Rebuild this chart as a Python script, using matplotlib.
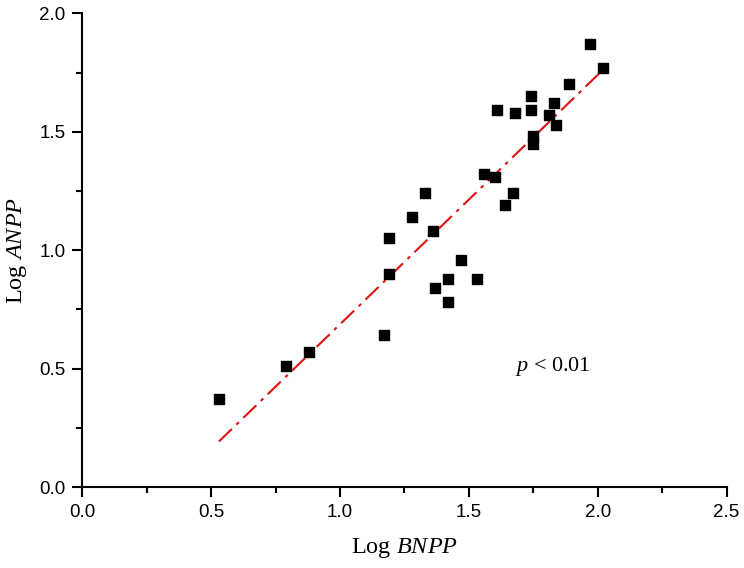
import numpy as np
from matplotlib import pyplot as plt
from matplotlib.ticker import MultipleLocator

# Log BNPP / Log ANPP
bnpp = [0.53, 0.79, 0.88, 1.17, 1.19, 1.19, 1.28, 1.33, 1.36, 1.37,
        1.42, 1.42, 1.47, 1.53, 1.56, 1.60, 1.64, 1.67, 1.61, 1.68,
        1.74, 1.74, 1.75, 1.75, 1.81, 1.83, 1.84, 1.89, 1.97, 2.02]
anpp = [0.37, 0.51, 0.57, 0.64, 0.90, 1.05, 1.14, 1.24, 1.08, 0.84,
        0.88, 0.78, 0.96, 0.88, 1.32, 1.31, 1.19, 1.24, 1.59, 1.58,
        1.59, 1.65, 1.48, 1.45, 1.57, 1.62, 1.53, 1.70, 1.87, 1.77]

# regression line
slope = 1.053
intercept = -0.366

plt.rcParams['font.family'] = 'Liberation Sans'
plt.rcParams['lines.scale_dashes'] = False
plt.rcParams['mathtext.fontset'] = 'custom'
plt.rcParams['mathtext.it'] = 'Liberation Serif:italic'
plt.rcParams['mathtext.rm'] = 'Liberation Serif'

fig = plt.figure(figsize=(7.44, 5.68), dpi=100)
ax = fig.add_axes([0.1106, 0.1426, 0.866, 0.834])

ax.scatter(bnpp, anpp, marker='s', s=52, c='black', zorder=3)
fit_x = np.array([min(bnpp), max(bnpp)])
ax.plot(fit_x, slope * fit_x + intercept, color='#e01010', lw=1.5,
        dashes=(13, 4.5, 2.5, 4.5), zorder=2)

ax.text(1.68, 0.51, "$p$ < 0.01", fontsize=16, family='Liberation Serif',
        va='center', ha='left')

ax.set_xlim(0, 2.5)
ax.set_ylim(0, 2.0)
ax.xaxis.set_major_locator(MultipleLocator(0.5))
ax.xaxis.set_minor_locator(MultipleLocator(0.25))
ax.yaxis.set_major_locator(MultipleLocator(0.5))
ax.yaxis.set_minor_locator(MultipleLocator(0.25))
ax.xaxis.set_major_formatter(lambda v, p: f"{v:.1f}")
ax.yaxis.set_major_formatter(lambda v, p: f"{v:.1f}")

for s in ['top', 'right']:
    ax.spines[s].set_visible(False)
for s in ['left', 'bottom']:
    ax.spines[s].set_linewidth(1.5)

ax.tick_params(which='major', length=7, width=1.5, direction='out',
               labelsize=13.5, pad=5)
ax.tick_params(which='minor', length=4, width=1.5, direction='out')

ax.set_xlabel("Log $BNPP$", fontsize=17.5, family='Liberation Serif', va='center')
ax.set_ylabel("Log $ANPP$", fontsize=17.5, family='Liberation Serif', va='center')
ax.xaxis.set_label_coords(0.5, -0.129)
ax.yaxis.set_label_coords(-0.101, 0.5)

fig.savefig("out.png", dpi=100)
